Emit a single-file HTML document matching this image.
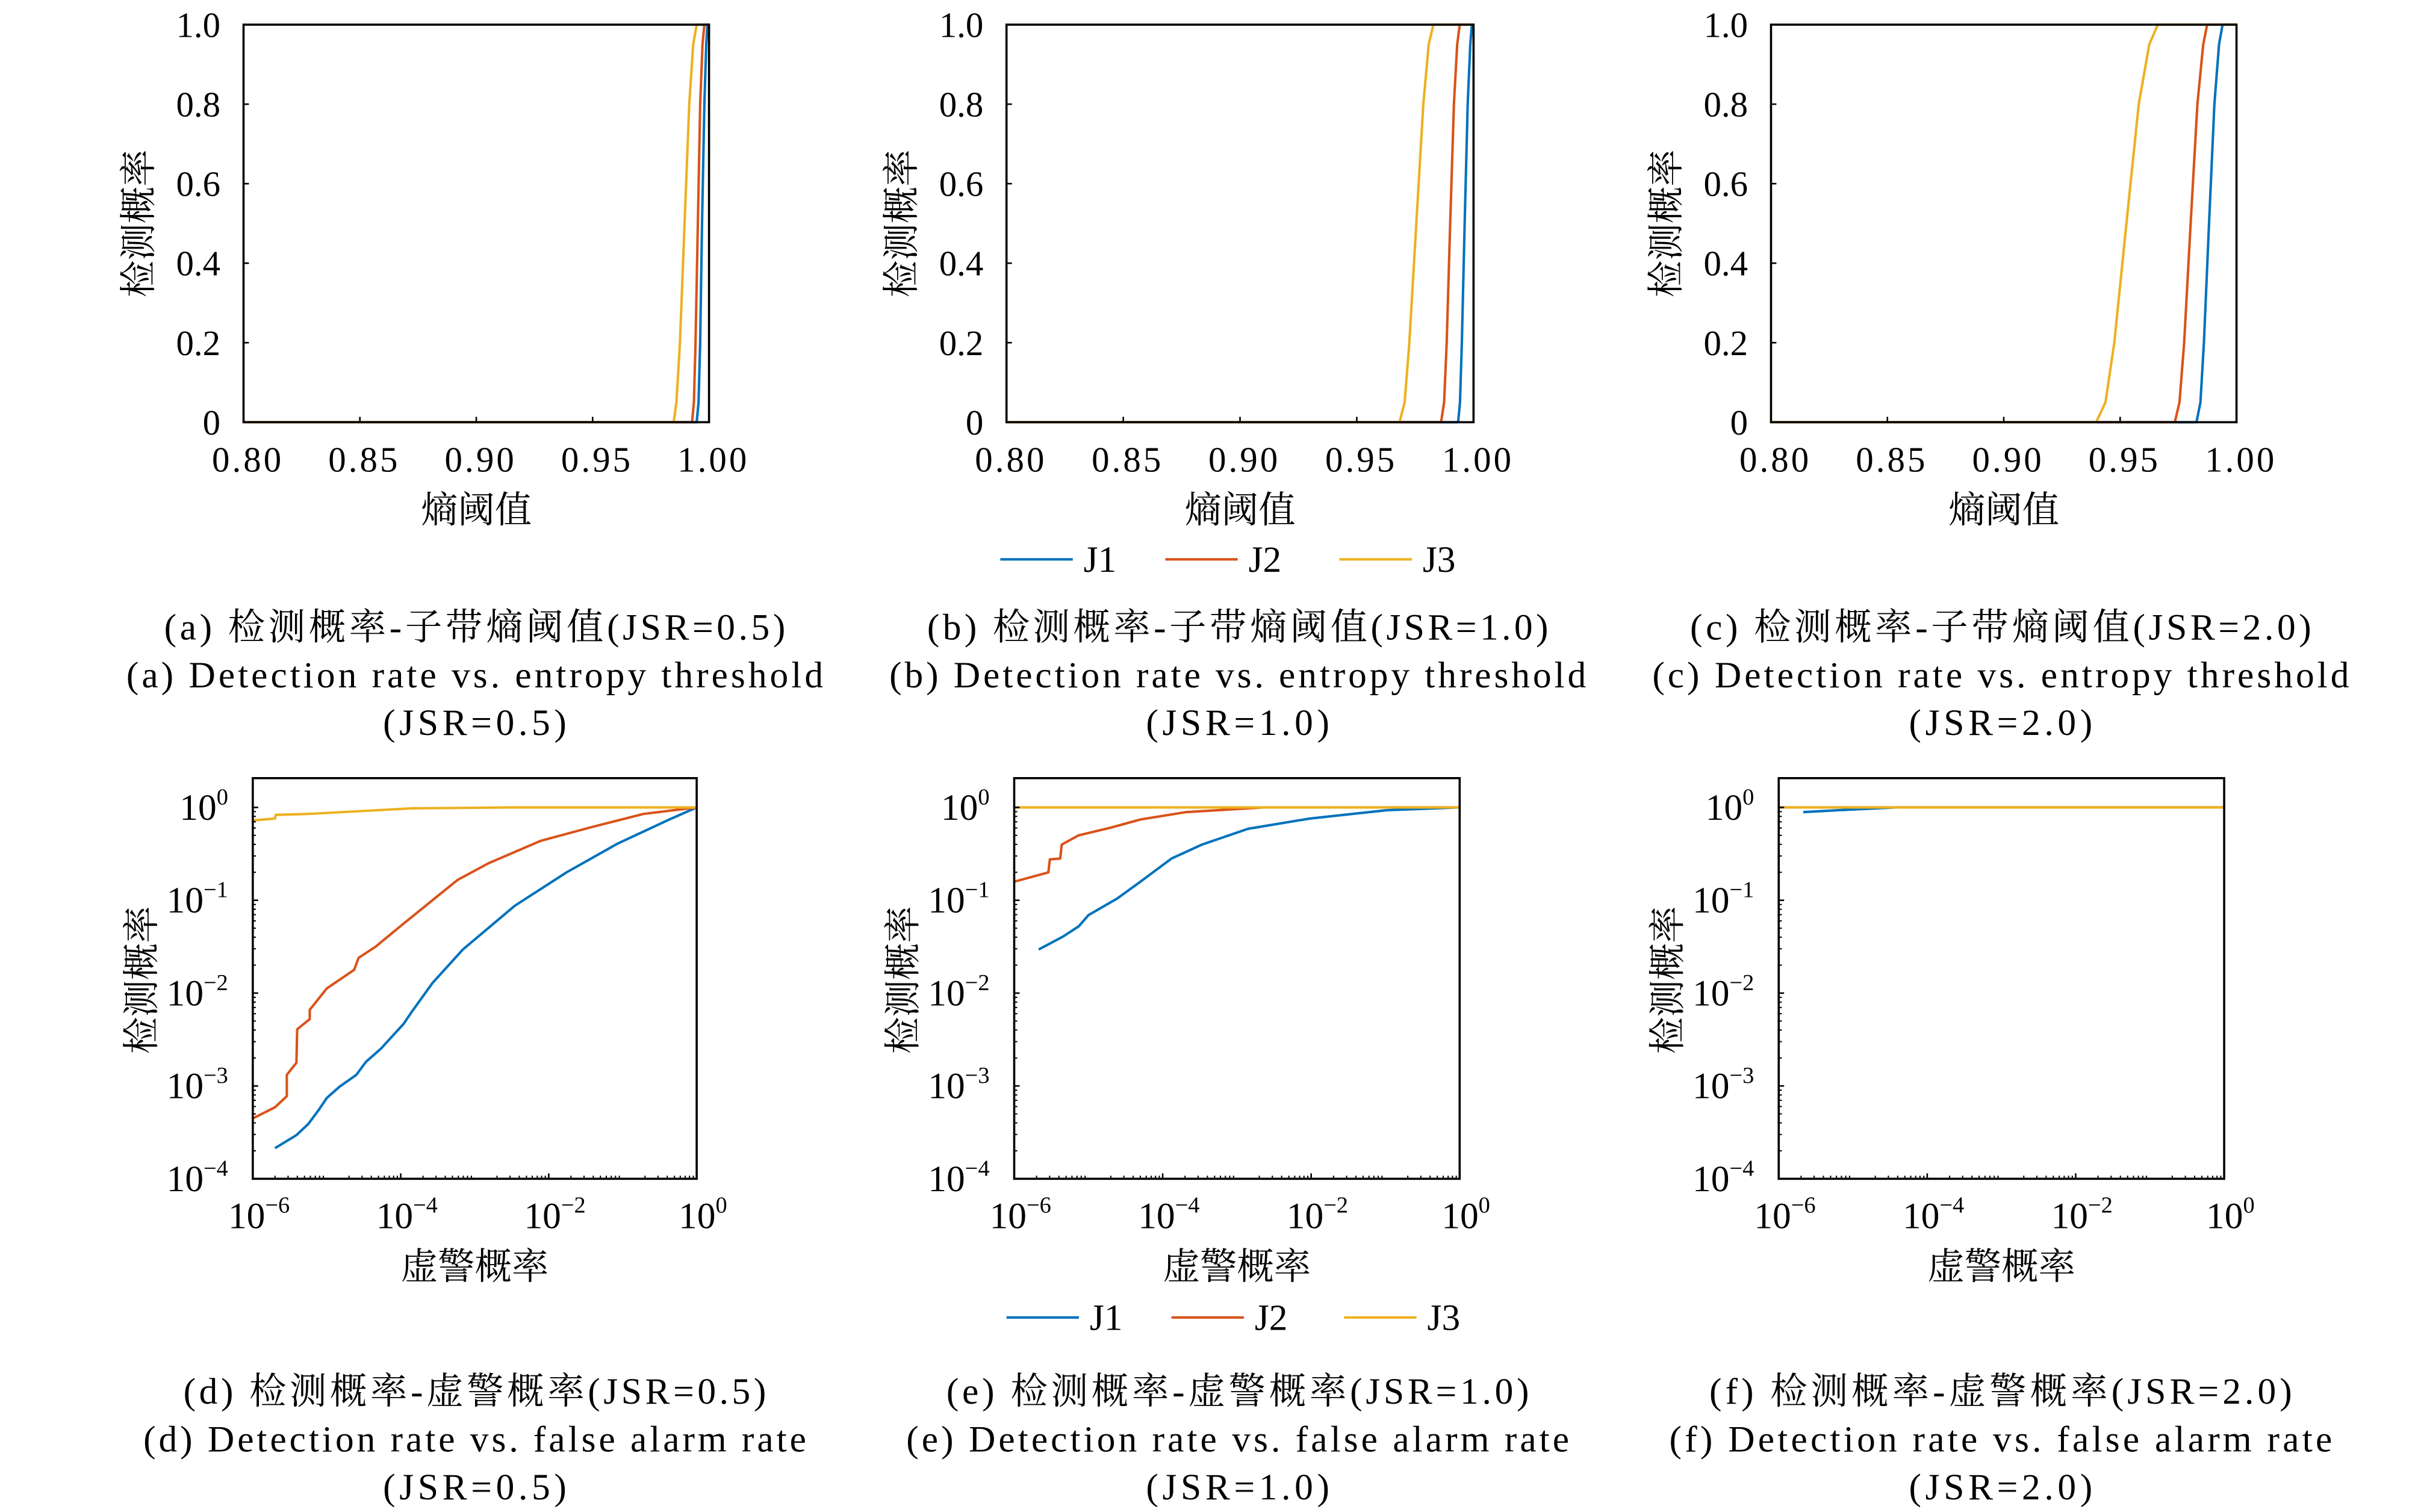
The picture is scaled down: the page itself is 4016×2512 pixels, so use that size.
<!DOCTYPE html>
<html><head><meta charset="utf-8">
<style>
html,body{margin:0;padding:0;background:#fff;}
svg{display:block;}
text{font-family:"Liberation Serif","Noto Serif CJK SC","Noto Sans CJK SC",serif;fill:#000;}
</style></head>
<body>
<svg id="fig" width="4016" height="2512" viewBox="0 0 1568.75 981.25" xmlns="http://www.w3.org/2000/svg">
<rect width="1568.75" height="981.25" fill="#fff"/>
</svg>
<script>
// ---- data ----
const colors = ['#0072BD','#D95319','#EDB120'];
const seriesNames = ['J1','J2','J3'];
const topXTicks = [0.80,0.85,0.90,0.95,1.00];
const topXTickLabels = ['0.80','0.85','0.90','0.95','1.00'];
const topYTicks = [0,0.2,0.4,0.6,0.8,1.0];
const topYTickLabels = ['0','0.2','0.4','0.6','0.8','1.0'];
const yLevels = [0,0.05,0.2,0.5,0.8,0.95,1];
const aJ1 = [0.9947,0.9955,0.9962,0.9970,0.9980,0.9988,0.9993];
const aJ2 = [0.9927,0.9935,0.9942,0.9952,0.9962,0.9972,0.9980];
const aJ3 = [0.9848,0.9860,0.9875,0.9895,0.9915,0.9932,0.9947];
const bJ1 = [0.9934,0.9942,0.9950,0.9962,0.9975,0.9986,0.9993];
const bJ2 = [0.9861,0.9874,0.9885,0.9900,0.9916,0.9930,0.9941];
const bJ3 = [0.9683,0.9705,0.9725,0.9755,0.9785,0.9808,0.9828];
const cJ1 = [0.9828,0.9845,0.9860,0.9882,0.9905,0.9925,0.9940];
const cJ2 = [0.9735,0.9755,0.9775,0.9803,0.9832,0.9857,0.9874];
const cJ3 = [0.9397,0.9437,0.9475,0.9527,0.9580,0.9625,0.9662];
const dJ1x = [-5.70,-5.41,-5.25,-5.11,-5.00,-4.83,-4.60,-4.47,-4.27,-3.96,-3.85,-3.57,-3.16,-2.46,-1.76,-1.07,-0.37,0];
const dJ1y = [-3.67,-3.53,-3.41,-3.26,-3.13,-3.01,-2.88,-2.74,-2.60,-2.33,-2.20,-1.89,-1.53,-1.06,-0.70,-0.39,-0.13,0];
const dJ2x = [-6,-5.70,-5.54,-5.54,-5.41,-5.40,-5.23,-5.23,-5.00,-4.63,-4.57,-4.34,-3.99,-3.51,-3.23,-2.81,-2.11,-1.41,-0.72,0];
const dJ2y = [-3.35,-3.23,-3.11,-2.88,-2.75,-2.39,-2.28,-2.18,-1.95,-1.75,-1.62,-1.50,-1.27,-0.96,-0.78,-0.60,-0.36,-0.21,-0.07,0];
const dJ3x = [-6,-5.70,-5.69,-5.25,-4.55,-3.85,-2.5,0];
const dJ3y = [-0.14,-0.12,-0.08,-0.07,-0.04,-0.01,0,0];
const eJ1x = [-5.67,-5.34,-5.13,-5.00,-4.61,-4.30,-3.88,-3.47,-2.85,-2.02,-0.98,0];
const eJ1y = [-1.53,-1.39,-1.28,-1.16,-0.98,-0.80,-0.55,-0.40,-0.23,-0.12,-0.03,0];
const eJ2x = [-6,-5.54,-5.52,-5.38,-5.36,-5.13,-4.71,-4.30,-3.68,-2.64,0];
const eJ2y = [-0.80,-0.70,-0.56,-0.55,-0.40,-0.30,-0.22,-0.13,-0.05,0,0];
const eJ3x = [-6,0];
const eJ3y = [0,0];
const fJ1x = [-5.67,-5.2,-4.42,0];
const fJ1y = [-0.05,-0.03,0,0];
const fJ2x = [-6,0];
const fJ2y = [0,0];
const fJ3x = [-6,0];
const fJ3y = [0,0];
const logXTicks = [-6,-4,-2,0];
const logYTicks = [-4,-3,-2,-1,0];

const svg = document.getElementById('fig');
const NS = 'http://www.w3.org/2000/svg';
function mk(tag, attrs, parent){
  const e = document.createElementNS(NS, tag);
  for (const k in attrs) e.setAttribute(k, attrs[k]);
  (parent||svg).appendChild(e);
  return e;
}

const topPanels = [
  {id:'a', x0:158, x1:460, series:[aJ1,aJ2,aJ3], cap1:'(a) 检测概率-子带熵阈值(JSR=0.5)', cap2:'(a) Detection rate vs. entropy threshold', cap3:'(JSR=0.5)', cx:308},
  {id:'b', x0:653, x1:956, series:[bJ1,bJ2,bJ3], cap1:'(b) 检测概率-子带熵阈值(JSR=1.0)', cap2:'(b) Detection rate vs. entropy threshold', cap3:'(JSR=1.0)', cx:803},
  {id:'c', x0:1149, x1:1451, series:[cJ1,cJ2,cJ3], cap1:'(c) 检测概率-子带熵阈值(JSR=2.0)', cap2:'(c) Detection rate vs. entropy threshold', cap3:'(JSR=2.0)', cx:1298}
];
const botPanels = [
  {id:'d', x0:164, x1:452, xs:[dJ1x,dJ2x,dJ3x], ys:[dJ1y,dJ2y,dJ3y], cap1:'(d) 检测概率-虚警概率(JSR=0.5)', cap2:'(d) Detection rate vs. false alarm rate', cap3:'(JSR=0.5)', cx:308},
  {id:'e', x0:658, x1:947, xs:[eJ1x,eJ2x,eJ3x], ys:[eJ1y,eJ2y,eJ3y], cap1:'(e) 检测概率-虚警概率(JSR=1.0)', cap2:'(e) Detection rate vs. false alarm rate', cap3:'(JSR=1.0)', cx:803},
  {id:'f', x0:1154, x1:1443, xs:[fJ1x,fJ2x,fJ3x], ys:[fJ1y,fJ2y,fJ3y], cap1:'(f) 检测概率-虚警概率(JSR=2.0)', cap2:'(f) Detection rate vs. false alarm rate', cap3:'(JSR=2.0)', cx:1298}
];

function captions(p, y1, g, lens){
  const lines=[p.cap1,p.cap2,p.cap3];
  const names=['caption-chinese','caption-english','caption-jsr'];
  for(let i=0;i<3;i++){
    const t = mk('text',{x:p.cx,y:y1+i*31,'font-size':24,'text-anchor':'middle',textLength:lens[i],lengthAdjust:'spacing'},g);
    t.textContent = lines[i];
    
    
  }
}

topPanels.forEach(p=>{
  const g = mk('g',{});
  
  
  const y0=274, y1=16;
  const sx = v => p.x0 + (v-0.8)/0.2*(p.x1-p.x0);
  const sy = v => y0 - v*(y0-y1);
  p.series.forEach((xs,si)=>{
    let d = 'M'+p.x0+','+sy(0)+' L';
    const pts = xs.map((x,i)=>sx(x).toFixed(2)+','+sy(yLevels[i]).toFixed(2));
    d += pts.join(' L') + ' L'+p.x1+','+sy(1);
    const path = mk('path',{d:d,fill:'none',stroke:colors[si],'stroke-width':1.6,'stroke-linejoin':'round'},g);
    
    
  });
  const frame = mk('rect',{x:p.x0,y:y1,width:p.x1-p.x0,height:y0-y1,fill:'none',stroke:'#000','stroke-width':1.4},g);
  
  
  topXTicks.forEach((v,i)=>{
    const x=sx(v);
    const tk=mk('line',{x1:x,y1:y0,x2:x,y2:y0-3.5,stroke:'#000','stroke-width':1},g);
    
    
    const t=mk('text',{x:x+2,y:y0+32,'font-size':23,'text-anchor':'middle',textLength:45,lengthAdjust:'spacing'},g);
    t.textContent=topXTickLabels[i];
    
    
  });
  topYTicks.forEach((v,i)=>{
    const y=sy(v);
    const tk=mk('line',{x1:p.x0,y1:y,x2:p.x0+3.5,y2:y,stroke:'#000','stroke-width':1},g);
    
    
    const t=mk('text',{x:p.x0-15,y:y+8,'font-size':23,'text-anchor':'end'},g);
    t.textContent=topYTickLabels[i];
    
    
  });
  const xl=mk('text',{x:(p.x0+p.x1)/2,y:339,'font-size':24,'text-anchor':'middle'},g);
  xl.textContent='熵阈值';
  
  
  const yl=mk('text',{x:0,y:0,'font-size':24,'text-anchor':'middle',transform:'translate('+(p.x0-60)+',145) rotate(-90)'},g);
  yl.textContent='检测概率';
  
  
  captions(p,415,g,[403,452,119]);
});

botPanels.forEach(p=>{
  const g = mk('g',{});
  
  
  const yb=765, yt=524, top=505;
  const sx = v => p.x0 + (v+6)/6*(p.x1-p.x0);
  const sy = v => yb - (v+4)/4*(yb-yt);
  p.xs.forEach((xs,si)=>{
    const ys=p.ys[si];
    const d='M'+xs.map((x,i)=>sx(x).toFixed(2)+','+sy(ys[i]).toFixed(2)).join(' L');
    const path = mk('path',{d:d,fill:'none',stroke:colors[si],'stroke-width':1.6,'stroke-linejoin':'round'},g);
    
    
  });
  const frame = mk('rect',{x:p.x0,y:top,width:p.x1-p.x0,height:yb-top,fill:'none',stroke:'#000','stroke-width':1.4},g);
  
  
  for(let dec=-6;dec<0;dec++){
    for(let m=2;m<10;m++){
      const x=sx(dec+Math.log10(m));
      const tk=mk('line',{x1:x,y1:yb,x2:x,y2:yb-2,stroke:'#000','stroke-width':0.8},g);
      
      
    }
  }
  for(let dec=-4;dec<0;dec++){
    for(let m=2;m<10;m++){
      const y=sy(dec+Math.log10(m));
      const tk=mk('line',{x1:p.x0,y1:y,x2:p.x0+2,y2:y,stroke:'#000','stroke-width':0.8},g);
      
      
    }
  }
  logXTicks.forEach(v=>{
    const x=sx(v);
    const tk=mk('line',{x1:x,y1:yb,x2:x,y2:yb-3.5,stroke:'#000','stroke-width':1},g);
    
    
    const t=mk('text',{x:x+4,y:yb+32,'font-size':24,'text-anchor':'middle'},g);
    
    
    const b=mk('tspan',{},t); b.textContent='10';
    const s=mk('tspan',{dy:-10,'font-size':15}, t); s.textContent=(v<0?'\u2212':'')+Math.abs(v);
  });
  logYTicks.forEach(v=>{
    const y=sy(v);
    const tk=mk('line',{x1:p.x0,y1:y,x2:p.x0+3.5,y2:y,stroke:'#000','stroke-width':1},g);
    
    
    const t=mk('text',{x:p.x0-16,y:y+8,'font-size':24,'text-anchor':'end'},g);
    
    
    const b=mk('tspan',{},t); b.textContent='10';
    const s=mk('tspan',{dy:-10,'font-size':15}, t); s.textContent=(v<0?'\u2212':'')+Math.abs(v);
  });
  const xl=mk('text',{x:(p.x0+p.x1)/2,y:830,'font-size':24,'text-anchor':'middle'},g);
  xl.textContent='虚警概率';
  
  
  const yl=mk('text',{x:0,y:0,'font-size':24,'text-anchor':'middle',transform:'translate('+(p.x0-64)+',636) rotate(-90)'},g);
  yl.textContent='检测概率';
  
  
  captions(p,911,g,[378,430,119]);
});

function legend(y, lx){
  const g=mk('g',{});
  
  
  seriesNames.forEach((n,i)=>{
    const ln=mk('line',{x1:lx[i],y1:y,x2:lx[i]+47,y2:y,stroke:colors[i],'stroke-width':1.6},g);
    
    
    const t=mk('text',{x:lx[i]+54,y:y+8,'font-size':24},g);
    t.textContent=n;
    
    
  });
}
legend(363,[649,756,869]);
legend(855,[653,760,872]);
</script>
</body></html>
